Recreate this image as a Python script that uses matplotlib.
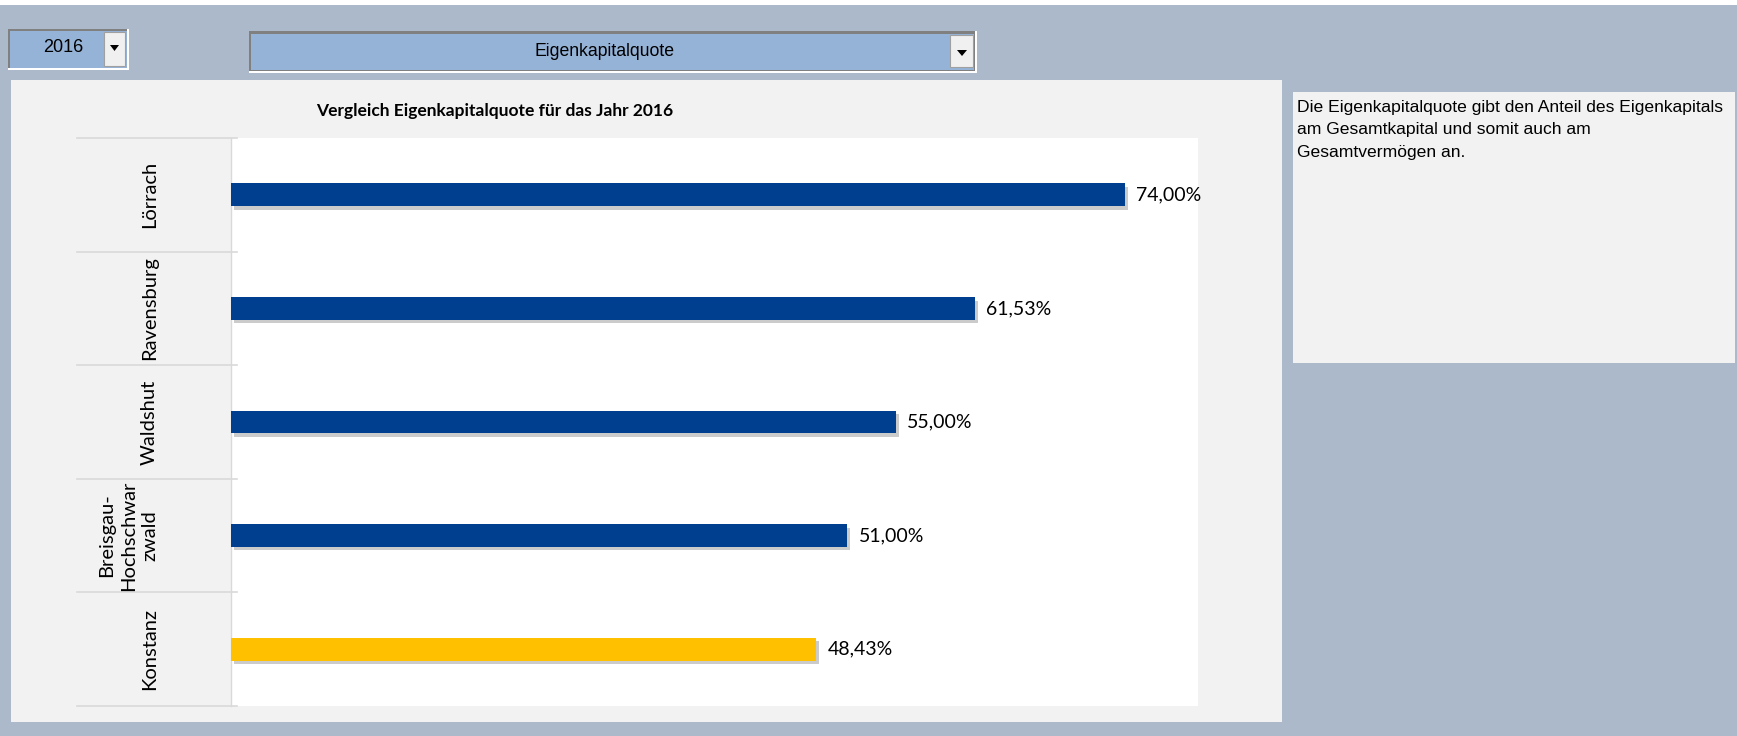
import matplotlib
matplotlib.use("Agg")
import matplotlib.pyplot as plt
from matplotlib.patches import Rectangle, Polygon
from matplotlib.transforms import blended_transform_factory
import matplotlib.patheffects as pe

# ---- data ----
categories = ["Lörrach", "Ravensburg", "Waldshut", "Breisgau-\nHochschwar\nzwald", "Konstanz"]
values = [74.00, 61.53, 55.00, 51.00, 48.43]
bar_colors = ["#003F8F", "#003F8F", "#003F8F", "#003F8F", "#FFC000"]
title = "Vergleich Eigenkapitalquote für das Jahr 2016"
year_label = "2016"
metric_label = "Eigenkapitalquote"
info_text = ("Die Eigenkapitalquote gibt den Anteil des Eigenkapitals\n"
             "am Gesamtkapital und somit auch am\n"
             "Gesamtvermögen an.")

W, H = 1737, 736
DPI = 100
fig = plt.figure(figsize=(W / DPI, H / DPI), dpi=DPI)
fig.patch.set_facecolor("#ACB9CA")

bg = fig.add_axes([0, 0, 1, 1], zorder=0)
bg.set_xlim(0, W)
bg.set_ylim(H, 0)
bg.axis("off")

def rect(x0, y0, x1, y1, fc, ec="none", lw=0, z=1):
    bg.add_patch(Rectangle((x0, y0), x1 - x0, y1 - y0, facecolor=fc, edgecolor=ec, linewidth=lw, zorder=z))

# top white strip
rect(0, 0, W, 5, "white")

# dropdown 1 (year)
rect(8, 29, 129, 70, "white", z=1)
rect(8, 29, 127, 68, "#808080", z=2)
rect(10, 31, 127, 68, "#95B3D7", z=3)
rect(104, 32, 125, 66, "#F0F0F0", ec="#A0A0A0", lw=0.8, z=4)
bg.add_patch(Polygon([[110, 45], [119, 45], [114.5, 51]], closed=True, facecolor="black", zorder=5))
bg.text(63, 47, year_label, ha="center", va="center", fontsize=13, family="Liberation Sans", zorder=6)

# dropdown 2 (metric)
rect(249, 31, 977, 73, "white", z=1)
rect(249, 31, 975, 71, "#808080", z=2)
rect(251, 34, 974, 70, "#95B3D7", z=3)
rect(950, 35, 973, 67, "#F0F0F0", ec="#A0A0A0", lw=0.8, z=4)
bg.add_patch(Polygon([[957, 50], [967, 50], [962, 56]], closed=True, facecolor="black", zorder=5))
bg.text(605, 51, metric_label, ha="center", va="center", fontsize=12.7, family="Liberation Sans", zorder=6)

# chart panel
rect(11, 80, 1282, 722, "#F2F2F2")

# info box
rect(1293, 92, 1735, 363, "#F2F2F2")
bg.text(1297, 100, info_text, ha="left", va="top", fontsize=12.6, family="Liberation Sans",
        linespacing=1.62, zorder=6)

# title
bg.text(495, 111, title, ha="center", va="center", fontsize=12.5, fontweight="bold",
        family="Lato", zorder=6)

# ---- chart axes ----
px_l, px_r, px_t, px_b = 231, 1198, 138, 706
ax = fig.add_axes([px_l / W, 1 - px_b / H, (px_r - px_l) / W, (px_b - px_t) / H], zorder=2)
ax.set_facecolor("white")
ypos = list(range(len(categories)))
bars = ax.barh(ypos, values, height=0.2, color=bar_colors, zorder=3)
for b in bars:
    b.set_path_effects([pe.SimplePatchShadow(offset=(2, -2.5), shadow_rgbFace="#8C8C8C", alpha=0.45),
                        pe.Normal()])
ax.set_xlim(0, 80)
ax.set_ylim(len(categories) - 0.5, -0.5)
ax.set_xticks([])
ax.set_yticks([])
for s in ["top", "right", "bottom"]:
    ax.spines[s].set_visible(False)
ax.spines["left"].set_color("#D9D9D9")
ax.spines["left"].set_linewidth(1)

axw = px_r - px_l
blend = blended_transform_factory(ax.transAxes, ax.transData)
for b in [i - 0.5 for i in range(len(categories) + 1)]:
    ax.plot([(77 - px_l) / axw, (237 - px_l) / axw], [b, b], transform=blend, clip_on=False,
            color="#D9D9D9", lw=1.2, zorder=1)

for i, c in enumerate(categories):
    ax.text((158 - px_l) / axw, i, c, transform=blend, rotation=90, ha="right", va="center",
            multialignment="center", fontsize=14.5, family="Lato", color="black", linespacing=1.3)

off = 11 / axw * 80
for i, v in enumerate(values):
    lab = f"{v:.2f}".replace(".", ",") + "%"
    ax.text(v + off, i, lab, ha="left", va="center", fontsize=14, family="Lato",
            color="black", clip_on=False, zorder=5)

fig.savefig("out.png", dpi=DPI, facecolor=fig.get_facecolor())
